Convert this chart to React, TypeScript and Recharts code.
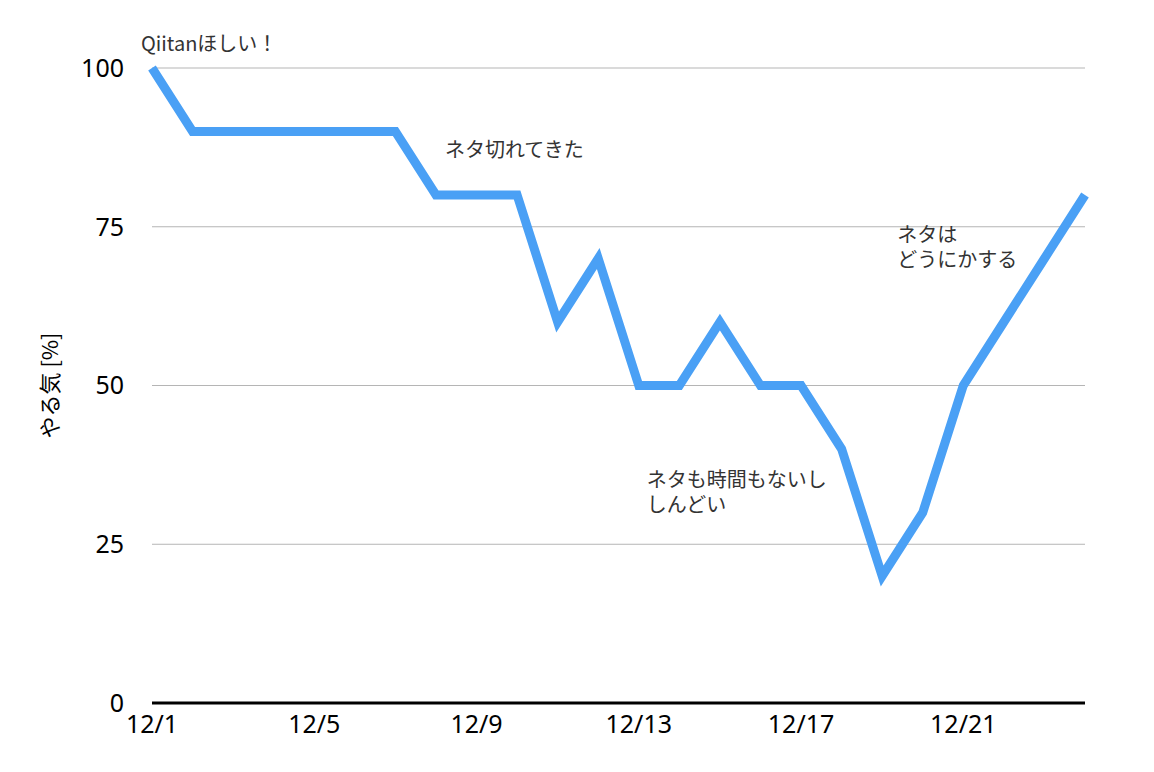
import React from "react";
import { LineChart, Line, XAxis, YAxis, CartesianGrid, ReferenceDot } from "recharts";

const dates = ["12/1","12/2","12/3","12/4","12/5","12/6","12/7","12/8","12/9","12/10","12/11","12/12","12/13","12/14","12/15","12/16","12/17","12/18","12/19","12/20","12/21","12/22","12/23","12/24"];
const motivation = [100,90,90,90,90,90,90,80,80,80,60,70,50,50,60,50,50,40,20,30,50,60,70,80];
const yTicks = [0, 25, 50, 75, 100];

const noteDates = ["12/1", "12/8", "12/19", "12/13"];
const noteValues = [104, 87.4, 74, 35.4];
const noteTexts = [["Qiitanほしい！"], ["ネタ切れてきた"], ["ネタは", "どうにかする"], ["ネタも時間もないし", "しんどい"]];
const noteDx = [-11, 9, 15, 8];

const data = dates.map((d, i) => ({ date: d, value: motivation[i] }));

const FONT = "'Noto Sans CJK JP', 'Noto Sans', sans-serif";
const TICK_FONT = "'Noto Sans', 'Noto Sans CJK JP', sans-serif";

export default function App() {
  return (
    <LineChart width={1138} height={756} data={data} margin={{ top: 60, right: 61, bottom: 0, left: 0 }}>
      <CartesianGrid vertical={false} stroke="#b5b5b5" strokeWidth={1} />
      <XAxis
        dataKey="date"
        interval={3}
        tickSize={0}
        tickMargin={12}
        axisLine={{ stroke: "#000", strokeWidth: 3 }}
        tickLine={false}
        tick={{ fill: "#000", fontSize: 25, fontFamily: TICK_FONT }}
        height={61}
      />
      <YAxis
        domain={[0, 100]}
        ticks={yTicks}
        width={144}
        tickSize={0}
        tickMargin={28}
        axisLine={false}
        tickLine={false}
        tick={{ fill: "#000", fontSize: 25, fontFamily: TICK_FONT }}
        label={{ value: "やる気 [%]", angle: -90, position: "insideLeft", dx: 37, style: { fill: "#000", fontSize: 22, fontFamily: FONT, textAnchor: "middle" } }}
      />
      <Line
        type="linear"
        dataKey="value"
        stroke="#4aa0f5"
        strokeWidth={9}
        dot={false}
        activeDot={false}
        isAnimationActive={false}
        strokeLinejoin="miter"
      />
      {noteDates.map((d, i) => (
        <ReferenceDot
          key={i}
          x={d}
          y={noteValues[i]}
          r={0}
          fill="none"
          stroke="none"
          ifOverflow="visible"
          label={{
            content: (props: any) => {
              const vb = props.viewBox || {};
              const cx = (vb.x ?? 0) + (vb.width ?? 0) / 2;
              const cy = (vb.y ?? 0) + (vb.height ?? 0) / 2;
              return (
                <g>
                  {noteTexts[i].map((t, j) => (
                    <text key={j} x={cx + noteDx[i]} y={cy + j * 25} fill="#333" fontSize={20} fontFamily={FONT} dominantBaseline="central" textAnchor="start">{t}</text>
                  ))}
                </g>
              );
            },
          }}
        />
      ))}
    </LineChart>
  );
}
